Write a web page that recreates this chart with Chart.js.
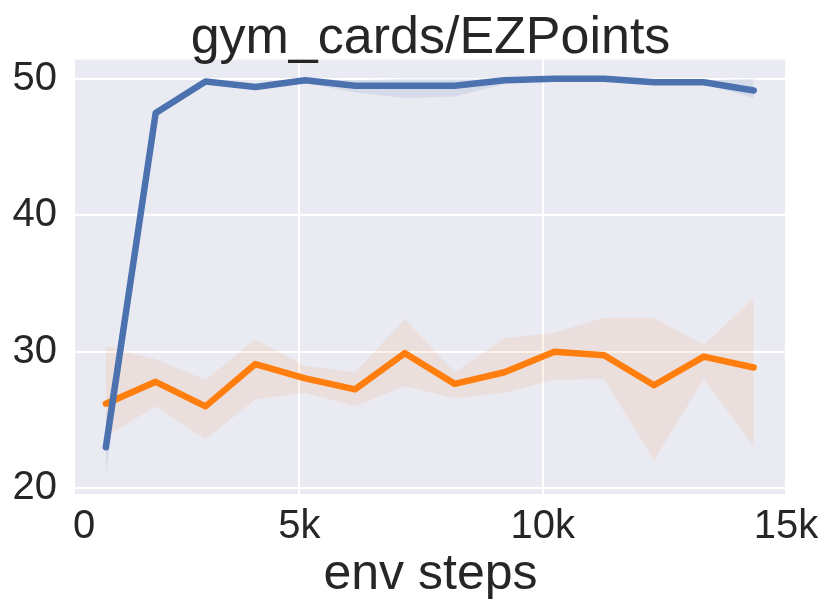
<!DOCTYPE html>
<html>
<head>
<meta charset="utf-8">
<script src="https://cdn.jsdelivr.net/npm/chart.js@4/dist/chart.umd.min.js"></script>
<style>
  html, body { margin: 0; padding: 0; background: #ffffff; }
  #wrap { width: 831px; height: 610px; position: relative; }
</style>
</head>
<body>
<div id="wrap"><canvas id="c" width="831" height="610"></canvas></div>
<script>
// ---- data ----
const envSteps = [1024, 2048, 3072, 4096, 5120, 6144, 7168, 8192, 9216, 10240, 11264, 12288, 13312, 14336];

const blueMean  = [23.0, 47.5, 49.8, 49.4, 49.9, 49.5, 49.5, 49.5, 49.9, 50.0, 50.0, 49.75, 49.75, 49.15];
const blueLow   = [21.0, 47.2, 49.6, 49.2, 49.7, 49.0, 48.6, 48.7, 49.6, 49.9, 49.9, 49.6, 49.6, 48.6];
const blueHigh  = [25.0, 47.8, 50.0, 49.6, 50.0, 49.9, 50.0, 50.0, 50.0, 50.1, 50.1, 49.9, 49.9, 50.0];

const orangeMean = [26.2, 27.8, 26.0, 29.1, 28.05, 27.25, 29.9, 27.65, 28.5, 30.0, 29.75, 27.55, 29.65, 28.85];
const orangeLow  = [23.8, 26.0, 23.6, 26.5, 27.0, 26.0, 27.5, 26.6, 27.0, 27.95, 28.0, 22.05, 28.0, 23.05];
const orangeHigh = [30.4, 29.45, 27.95, 30.9, 28.95, 28.5, 32.4, 28.5, 31.0, 31.4, 32.5, 32.5, 30.5, 33.95];

const xTickValues = [0, 5000, 10000, 15000];
const xTickLabels = ['0', '5k', '10k', '15k'];
const yTickValues = [20, 30, 40, 50];
const yTickLabels = ['20', '30', '40', '50'];

const titleText = 'gym_cards/EZPoints';
const xAxisTitle = 'env steps';

// ---- styles ----
const BLUE = '#4c72b0';
const ORANGE = '#ff7f0e';
const FONT = "'Liberation Sans', Arial, sans-serif";
const TEXT = '#262626';

function pts(ys) { return envSteps.map((x, i) => ({ x: x, y: ys[i] })); }

const bgPlugin = {
  id: 'plotBg',
  afterLayout(chart) {
    // centre the title over the plotting area, as in the reference
    const a = chart.chartArea;
    if (chart.titleBlock) {
      chart.titleBlock.left = a.left;
      chart.titleBlock.right = a.right;
      chart.titleBlock.width = a.right - a.left;
    }
  },
  beforeDraw(chart) {
    const a = chart.chartArea, ctx = chart.ctx;
    ctx.save();
    ctx.fillStyle = '#eaeaf2';
    ctx.fillRect(a.left, a.top, a.right - a.left, a.bottom - a.top);
    ctx.restore();
  }
};

const X_MIN = 390, X_MAX = 15000;

new Chart(document.getElementById('c'), {
  type: 'line',
  data: {
    datasets: [
      { data: pts(blueLow), borderWidth: 0, pointRadius: 0, fill: false, borderColor: 'rgba(0,0,0,0)' },
      { data: pts(blueHigh), borderWidth: 0, pointRadius: 0, fill: '-1', borderColor: 'rgba(0,0,0,0)', backgroundColor: 'rgba(76,114,176,0.12)' },
      { label: 'blue', data: pts(blueMean), borderColor: BLUE, borderWidth: 6.5, pointRadius: 0, fill: false, borderCapStyle: 'round', borderJoinStyle: 'round' },
      { data: pts(orangeLow), borderWidth: 0, pointRadius: 0, fill: false, borderColor: 'rgba(0,0,0,0)' },
      { data: pts(orangeHigh), borderWidth: 0, pointRadius: 0, fill: '-1', borderColor: 'rgba(0,0,0,0)', backgroundColor: 'rgba(255,127,14,0.09)' },
      { label: 'orange', data: pts(orangeMean), borderColor: ORANGE, borderWidth: 6.5, pointRadius: 0, fill: false, borderCapStyle: 'round', borderJoinStyle: 'round' }
    ]
  },
  options: {
    responsive: false,
    animation: false,
    devicePixelRatio: 1,
    layout: { padding: { left: 12, right: 45, top: 0, bottom: 7 } },
    plugins: {
      legend: { display: false },
      tooltip: { enabled: false },
      title: {
        display: true,
        text: titleText,
        color: TEXT,
        font: { family: FONT, size: 52, weight: 'normal', lineHeight: 0.8 },
        padding: { top: 18, bottom: 0 }
      }
    },
    scales: {
      x: {
        type: 'linear',
        min: X_MIN,
        max: X_MAX,
        afterBuildTicks(scale) {
          scale.ticks = xTickValues.map(v => ({ value: Math.max(v, X_MIN + 185) }));
        },
        ticks: {
          color: TEXT,
          font: { family: FONT, size: 40 },
          padding: 9,
          maxRotation: 0,
          autoSkip: false,
          callback: (v, i) => xTickLabels[i]
        },
        grid: {
          color: (ctx) => (ctx.tick && ctx.tick.value < 1000) ? 'rgba(0,0,0,0)' : '#ffffff',
          lineWidth: 2,
          drawTicks: false
        },
        border: { display: false },
        title: {
          display: true,
          text: xAxisTitle,
          color: TEXT,
          font: { family: FONT, size: 50, lineHeight: 1 },
          padding: { top: -10, bottom: 3 }
        }
      },
      y: {
        type: 'linear',
        min: 19.58,
        max: 51.41,
        afterBuildTicks(scale) {
          scale.ticks = yTickValues.map(v => ({ value: v }));
        },
        afterFit(scale) { scale.width = 63; },
        ticks: {
          color: TEXT,
          font: { family: FONT, size: 40 },
          padding: 18,
          autoSkip: false,
          callback: (v, i) => yTickLabels[i]
        },
        grid: { color: '#ffffff', lineWidth: 2, drawTicks: false },
        border: { display: false }
      }
    }
  },
  plugins: [bgPlugin]
});
</script>
</body>
</html>
